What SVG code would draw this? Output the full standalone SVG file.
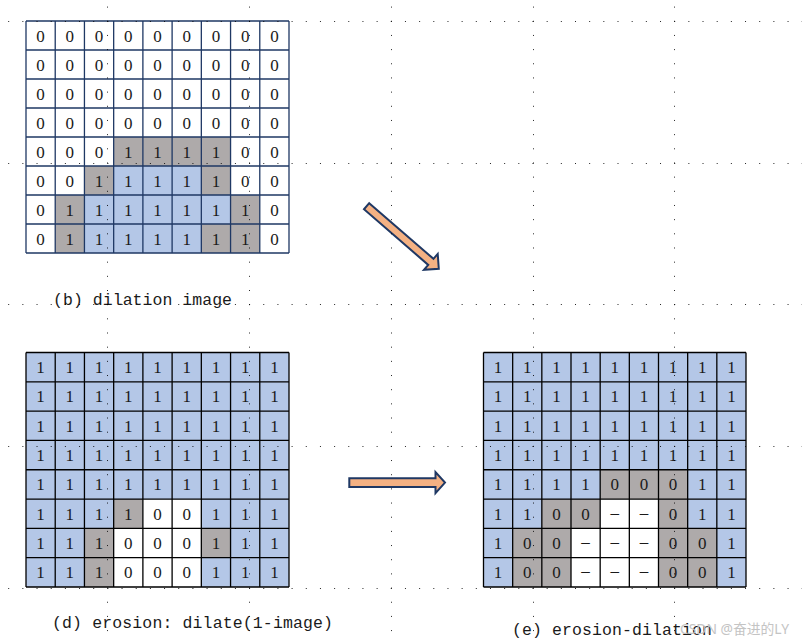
<svg xmlns="http://www.w3.org/2000/svg" width="802" height="642" viewBox="0 0 802 642">
<style>
.bg{fill:#ffffff}
.blue{fill:#b4c7e7}
.gray{fill:#aeaaaa}
.wh{fill:#ffffff}
.ln1{fill:none;stroke:#1f3864;stroke-width:1.3}
.ln2{fill:none;stroke:#000000;stroke-width:1.3}
.d{font-family:"Liberation Serif","Times New Roman",serif;font-size:17px;fill:#1a1a1a;text-anchor:middle}
.lbl{font-family:"Liberation Mono","Courier New",monospace;font-size:16.5px;fill:#1a1a1a}
.arr{fill:#f4b183;stroke:#1f3864;stroke-width:2;stroke-linejoin:miter}
.dots{fill:none;stroke:#000;stroke-width:1;stroke-dasharray:1 13.17;opacity:0.85}
.wm{font-family:"Noto Sans","Noto Sans CJK SC",sans-serif;font-size:14px;fill:#c4c4c4}
</style>
<rect x="0" y="0" width="802" height="642" class="bg"/>

<g id="grid-dilation">
<rect x="26" y="21" width="263" height="232" class="wh"/>
<rect x="113.67" y="137" width="116.89" height="29" class="gray"/>
<rect x="84.44" y="166" width="29.23" height="29" class="gray"/>
<rect x="113.67" y="166" width="87.66" height="29" class="blue"/>
<rect x="201.33" y="166" width="29.23" height="29" class="gray"/>
<rect x="55.22" y="195" width="29.22" height="29" class="gray"/>
<rect x="84.44" y="195" width="146.12" height="29" class="blue"/>
<rect x="230.56" y="195" width="29.22" height="29" class="gray"/>
<rect x="55.22" y="224" width="29.22" height="29" class="gray"/>
<rect x="84.44" y="224" width="116.89" height="29" class="blue"/>
<rect x="201.33" y="224" width="58.45" height="29" class="gray"/>
<path class="ln1" d="M26,21V253M55.22,21V253M84.44,21V253M113.67,21V253M142.89,21V253M172.11,21V253M201.33,21V253M230.56,21V253M259.78,21V253M289,21V253M26,21H289M26,50H289M26,79H289M26,108H289M26,137H289M26,166H289M26,195H289M26,224H289M26,253H289"/>
<text class="d" x="40.61" y="41.5">0</text><text class="d" x="69.83" y="41.5">0</text><text class="d" x="99.06" y="41.5">0</text><text class="d" x="128.28" y="41.5">0</text><text class="d" x="157.5" y="41.5">0</text><text class="d" x="186.72" y="41.5">0</text><text class="d" x="215.94" y="41.5">0</text><text class="d" x="245.17" y="41.5">0</text><text class="d" x="274.39" y="41.5">0</text>
<text class="d" x="40.61" y="70.5">0</text><text class="d" x="69.83" y="70.5">0</text><text class="d" x="99.06" y="70.5">0</text><text class="d" x="128.28" y="70.5">0</text><text class="d" x="157.5" y="70.5">0</text><text class="d" x="186.72" y="70.5">0</text><text class="d" x="215.94" y="70.5">0</text><text class="d" x="245.17" y="70.5">0</text><text class="d" x="274.39" y="70.5">0</text>
<text class="d" x="40.61" y="99.5">0</text><text class="d" x="69.83" y="99.5">0</text><text class="d" x="99.06" y="99.5">0</text><text class="d" x="128.28" y="99.5">0</text><text class="d" x="157.5" y="99.5">0</text><text class="d" x="186.72" y="99.5">0</text><text class="d" x="215.94" y="99.5">0</text><text class="d" x="245.17" y="99.5">0</text><text class="d" x="274.39" y="99.5">0</text>
<text class="d" x="40.61" y="128.5">0</text><text class="d" x="69.83" y="128.5">0</text><text class="d" x="99.06" y="128.5">0</text><text class="d" x="128.28" y="128.5">0</text><text class="d" x="157.5" y="128.5">0</text><text class="d" x="186.72" y="128.5">0</text><text class="d" x="215.94" y="128.5">0</text><text class="d" x="245.17" y="128.5">0</text><text class="d" x="274.39" y="128.5">0</text>
<text class="d" x="40.61" y="157.5">0</text><text class="d" x="69.83" y="157.5">0</text><text class="d" x="99.06" y="157.5">0</text><text class="d" x="128.28" y="157.5">1</text><text class="d" x="157.5" y="157.5">1</text><text class="d" x="186.72" y="157.5">1</text><text class="d" x="215.94" y="157.5">1</text><text class="d" x="245.17" y="157.5">0</text><text class="d" x="274.39" y="157.5">0</text>
<text class="d" x="40.61" y="186.5">0</text><text class="d" x="69.83" y="186.5">0</text><text class="d" x="99.06" y="186.5">1</text><text class="d" x="128.28" y="186.5">1</text><text class="d" x="157.5" y="186.5">1</text><text class="d" x="186.72" y="186.5">1</text><text class="d" x="215.94" y="186.5">1</text><text class="d" x="245.17" y="186.5">0</text><text class="d" x="274.39" y="186.5">0</text>
<text class="d" x="40.61" y="215.5">0</text><text class="d" x="69.83" y="215.5">1</text><text class="d" x="99.06" y="215.5">1</text><text class="d" x="128.28" y="215.5">1</text><text class="d" x="157.5" y="215.5">1</text><text class="d" x="186.72" y="215.5">1</text><text class="d" x="215.94" y="215.5">1</text><text class="d" x="245.17" y="215.5">1</text><text class="d" x="274.39" y="215.5">0</text>
<text class="d" x="40.61" y="244.5">0</text><text class="d" x="69.83" y="244.5">1</text><text class="d" x="99.06" y="244.5">1</text><text class="d" x="128.28" y="244.5">1</text><text class="d" x="157.5" y="244.5">1</text><text class="d" x="186.72" y="244.5">1</text><text class="d" x="215.94" y="244.5">1</text><text class="d" x="245.17" y="244.5">1</text><text class="d" x="274.39" y="244.5">0</text>
</g>

<g id="grid-erosion">
<rect x="26" y="352.5" width="263" height="234.5" class="blue"/>
<rect x="113.67" y="499.06" width="29.22" height="29.32" class="gray"/>
<rect x="142.89" y="499.06" width="58.44" height="29.32" class="wh"/>
<rect x="84.44" y="528.38" width="29.23" height="29.31" class="gray"/>
<rect x="113.67" y="528.38" width="87.66" height="29.31" class="wh"/>
<rect x="201.33" y="528.38" width="29.23" height="29.31" class="gray"/>
<rect x="84.44" y="557.69" width="29.23" height="29.31" class="gray"/>
<rect x="113.67" y="557.69" width="87.66" height="29.31" class="wh"/>
<path class="ln2" d="M26,352.5V587M55.22,352.5V587M84.44,352.5V587M113.67,352.5V587M142.89,352.5V587M172.11,352.5V587M201.33,352.5V587M230.56,352.5V587M259.78,352.5V587M289,352.5V587M26,352.5H289M26,381.81H289M26,411.13H289M26,440.44H289M26,469.75H289M26,499.06H289M26,528.38H289M26,557.69H289M26,587H289"/>
<text class="d" x="40.61" y="373">1</text><text class="d" x="69.83" y="373">1</text><text class="d" x="99.06" y="373">1</text><text class="d" x="128.28" y="373">1</text><text class="d" x="157.5" y="373">1</text><text class="d" x="186.72" y="373">1</text><text class="d" x="215.94" y="373">1</text><text class="d" x="245.17" y="373">1</text><text class="d" x="274.39" y="373">1</text>
<text class="d" x="40.61" y="402.31">1</text><text class="d" x="69.83" y="402.31">1</text><text class="d" x="99.06" y="402.31">1</text><text class="d" x="128.28" y="402.31">1</text><text class="d" x="157.5" y="402.31">1</text><text class="d" x="186.72" y="402.31">1</text><text class="d" x="215.94" y="402.31">1</text><text class="d" x="245.17" y="402.31">1</text><text class="d" x="274.39" y="402.31">1</text>
<text class="d" x="40.61" y="431.63">1</text><text class="d" x="69.83" y="431.63">1</text><text class="d" x="99.06" y="431.63">1</text><text class="d" x="128.28" y="431.63">1</text><text class="d" x="157.5" y="431.63">1</text><text class="d" x="186.72" y="431.63">1</text><text class="d" x="215.94" y="431.63">1</text><text class="d" x="245.17" y="431.63">1</text><text class="d" x="274.39" y="431.63">1</text>
<text class="d" x="40.61" y="460.94">1</text><text class="d" x="69.83" y="460.94">1</text><text class="d" x="99.06" y="460.94">1</text><text class="d" x="128.28" y="460.94">1</text><text class="d" x="157.5" y="460.94">1</text><text class="d" x="186.72" y="460.94">1</text><text class="d" x="215.94" y="460.94">1</text><text class="d" x="245.17" y="460.94">1</text><text class="d" x="274.39" y="460.94">1</text>
<text class="d" x="40.61" y="490.25">1</text><text class="d" x="69.83" y="490.25">1</text><text class="d" x="99.06" y="490.25">1</text><text class="d" x="128.28" y="490.25">1</text><text class="d" x="157.5" y="490.25">1</text><text class="d" x="186.72" y="490.25">1</text><text class="d" x="215.94" y="490.25">1</text><text class="d" x="245.17" y="490.25">1</text><text class="d" x="274.39" y="490.25">1</text>
<text class="d" x="40.61" y="519.56">1</text><text class="d" x="69.83" y="519.56">1</text><text class="d" x="99.06" y="519.56">1</text><text class="d" x="128.28" y="519.56">1</text><text class="d" x="157.5" y="519.56">0</text><text class="d" x="186.72" y="519.56">0</text><text class="d" x="215.94" y="519.56">1</text><text class="d" x="245.17" y="519.56">1</text><text class="d" x="274.39" y="519.56">1</text>
<text class="d" x="40.61" y="548.88">1</text><text class="d" x="69.83" y="548.88">1</text><text class="d" x="99.06" y="548.88">1</text><text class="d" x="128.28" y="548.88">0</text><text class="d" x="157.5" y="548.88">0</text><text class="d" x="186.72" y="548.88">0</text><text class="d" x="215.94" y="548.88">1</text><text class="d" x="245.17" y="548.88">1</text><text class="d" x="274.39" y="548.88">1</text>
<text class="d" x="40.61" y="578.19">1</text><text class="d" x="69.83" y="578.19">1</text><text class="d" x="99.06" y="578.19">1</text><text class="d" x="128.28" y="578.19">0</text><text class="d" x="157.5" y="578.19">0</text><text class="d" x="186.72" y="578.19">0</text><text class="d" x="215.94" y="578.19">1</text><text class="d" x="245.17" y="578.19">1</text><text class="d" x="274.39" y="578.19">1</text>
</g>

<g id="grid-difference">
<rect x="483.5" y="352.5" width="262.5" height="234.5" class="blue"/>
<rect x="600.17" y="469.75" width="87.5" height="29.31" class="gray"/>
<rect x="541.83" y="499.06" width="58.34" height="29.32" class="gray"/>
<rect x="600.17" y="499.06" width="58.33" height="29.32" class="wh"/>
<rect x="658.5" y="499.06" width="29.17" height="29.32" class="gray"/>
<rect x="512.67" y="528.38" width="58.33" height="29.31" class="gray"/>
<rect x="571" y="528.38" width="87.5" height="29.31" class="wh"/>
<rect x="658.5" y="528.38" width="58.33" height="29.31" class="gray"/>
<rect x="512.67" y="557.69" width="58.33" height="29.31" class="gray"/>
<rect x="571" y="557.69" width="87.5" height="29.31" class="wh"/>
<rect x="658.5" y="557.69" width="58.33" height="29.31" class="gray"/>
<path class="ln2" d="M483.5,352.5V587M512.67,352.5V587M541.83,352.5V587M571,352.5V587M600.17,352.5V587M629.33,352.5V587M658.5,352.5V587M687.67,352.5V587M716.83,352.5V587M746,352.5V587M483.5,352.5H746M483.5,381.81H746M483.5,411.13H746M483.5,440.44H746M483.5,469.75H746M483.5,499.06H746M483.5,528.38H746M483.5,557.69H746M483.5,587H746"/>
<text class="d" x="498.08" y="373">1</text><text class="d" x="527.25" y="373">1</text><text class="d" x="556.42" y="373">1</text><text class="d" x="585.58" y="373">1</text><text class="d" x="614.75" y="373">1</text><text class="d" x="643.92" y="373">1</text><text class="d" x="673.08" y="373">1</text><text class="d" x="702.25" y="373">1</text><text class="d" x="731.42" y="373">1</text>
<text class="d" x="498.08" y="402.31">1</text><text class="d" x="527.25" y="402.31">1</text><text class="d" x="556.42" y="402.31">1</text><text class="d" x="585.58" y="402.31">1</text><text class="d" x="614.75" y="402.31">1</text><text class="d" x="643.92" y="402.31">1</text><text class="d" x="673.08" y="402.31">1</text><text class="d" x="702.25" y="402.31">1</text><text class="d" x="731.42" y="402.31">1</text>
<text class="d" x="498.08" y="431.63">1</text><text class="d" x="527.25" y="431.63">1</text><text class="d" x="556.42" y="431.63">1</text><text class="d" x="585.58" y="431.63">1</text><text class="d" x="614.75" y="431.63">1</text><text class="d" x="643.92" y="431.63">1</text><text class="d" x="673.08" y="431.63">1</text><text class="d" x="702.25" y="431.63">1</text><text class="d" x="731.42" y="431.63">1</text>
<text class="d" x="498.08" y="460.94">1</text><text class="d" x="527.25" y="460.94">1</text><text class="d" x="556.42" y="460.94">1</text><text class="d" x="585.58" y="460.94">1</text><text class="d" x="614.75" y="460.94">1</text><text class="d" x="643.92" y="460.94">1</text><text class="d" x="673.08" y="460.94">1</text><text class="d" x="702.25" y="460.94">1</text><text class="d" x="731.42" y="460.94">1</text>
<text class="d" x="498.08" y="490.25">1</text><text class="d" x="527.25" y="490.25">1</text><text class="d" x="556.42" y="490.25">1</text><text class="d" x="585.58" y="490.25">1</text><text class="d" x="614.75" y="490.25">0</text><text class="d" x="643.92" y="490.25">0</text><text class="d" x="673.08" y="490.25">0</text><text class="d" x="702.25" y="490.25">1</text><text class="d" x="731.42" y="490.25">1</text>
<text class="d" x="498.08" y="519.56">1</text><text class="d" x="527.25" y="519.56">1</text><text class="d" x="556.42" y="519.56">0</text><text class="d" x="585.58" y="519.56">0</text><text class="d" x="614.75" y="517.76">–</text><text class="d" x="643.92" y="517.76">–</text><text class="d" x="673.08" y="519.56">0</text><text class="d" x="702.25" y="519.56">1</text><text class="d" x="731.42" y="519.56">1</text>
<text class="d" x="498.08" y="548.88">1</text><text class="d" x="527.25" y="548.88">0</text><text class="d" x="556.42" y="548.88">0</text><text class="d" x="585.58" y="547.08">–</text><text class="d" x="614.75" y="547.08">–</text><text class="d" x="643.92" y="547.08">–</text><text class="d" x="673.08" y="548.88">0</text><text class="d" x="702.25" y="548.88">0</text><text class="d" x="731.42" y="548.88">1</text>
<text class="d" x="498.08" y="578.19">1</text><text class="d" x="527.25" y="578.19">0</text><text class="d" x="556.42" y="578.19">0</text><text class="d" x="585.58" y="576.39">–</text><text class="d" x="614.75" y="576.39">–</text><text class="d" x="643.92" y="576.39">–</text><text class="d" x="673.08" y="578.19">0</text><text class="d" x="702.25" y="578.19">0</text><text class="d" x="731.42" y="578.19">1</text>
</g>

<g id="connectors">
<path class="arr" transform="translate(366.6,206.2) rotate(40.9)" d="M0,-4 H85 V-10.5 L95.5,0 L85,10.5 V4 H0 Z"/>
<path class="arr" d="M349.3,478.3 H435.5 V472 L445,482.6 L435.5,493.2 V487 H349.3 Z"/>
</g>

<g id="labels">
<text class="lbl" x="53" y="305" textLength="179" lengthAdjust="spacing">(b) dilation image</text>
<text class="lbl" x="52" y="628" textLength="281" lengthAdjust="spacing">(d) erosion: dilate(1-image)</text>
<text class="lbl" x="512" y="635" textLength="200" lengthAdjust="spacing">(e) erosion-dilation</text>
</g>

<g id="background-dots">
<path class="dots" d="M107.5,6.6V642M249.5,6.6V642M391.5,6.6V642M533.5,6.6V642M674.5,6.6V642"/>
<path class="dots" d="M8.2,21.5H802M8.2,163.5H802M8.2,304.5H802M8.2,446.5H802M8.2,588.5H802"/>
</g>

<text class="wm" x="680" y="634" textLength="109" lengthAdjust="spacingAndGlyphs">CSDN @奋进的LY</text>
</svg>
